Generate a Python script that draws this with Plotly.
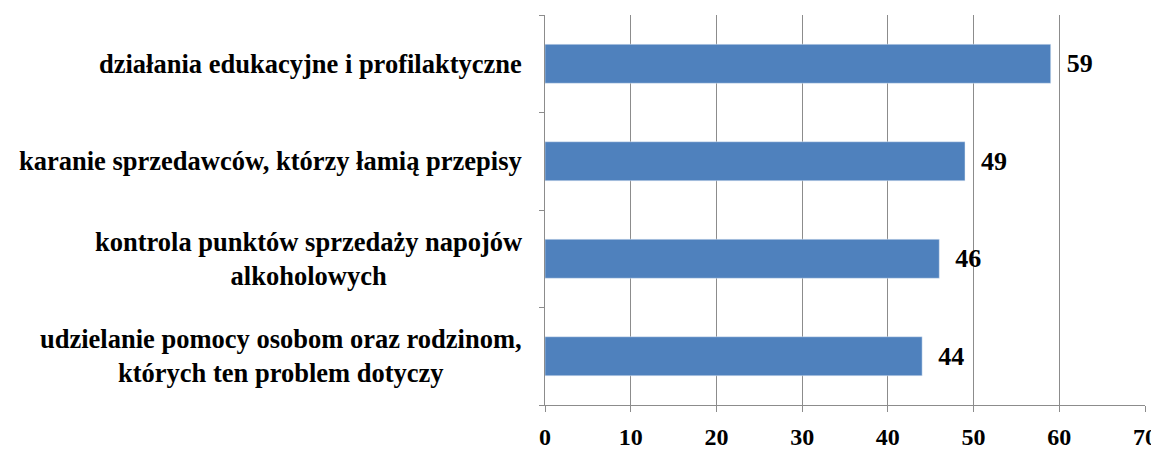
import plotly.graph_objects as go

categories = [
    "udzielanie pomocy osobom oraz rodzinom,<br>których ten problem dotyczy",
    "kontrola punktów sprzedaży napojów<br>alkoholowych",
    "karanie sprzedawców, którzy łamią przepisy",
    "działania edukacyjne i profilaktyczne",
]
values = [44, 46, 49, 59]
x_ticks = [0, 10, 20, 30, 40, 50, 60, 70]

font_family = "Liberation Serif"

fig = go.Figure(go.Bar(
    y=categories, x=values, orientation="h",
    marker=dict(color="#4F81BD"),
    text=["&nbsp;&nbsp;<b>%d</b>" % v for v in values], textposition="outside",
    textfont=dict(family=font_family, size=26, color="black"),
    cliponaxis=False, width=0.4,
))

# category labels as annotations so multi-line text is centred
for c in categories:
    fig.add_annotation(x=0, xref="paper", y=c, yref="y", text="<b>" + c + "</b>",
                       showarrow=False, xanchor="right", align="center", xshift=-21,
                       font=dict(family=font_family, size=26.5, color="black"))

fig.update_layout(
    width=1151, height=450,
    margin=dict(l=537, r=14, t=7, b=53),
    plot_bgcolor="white", paper_bgcolor="white",
    showlegend=False,
    font=dict(family=font_family, size=20, color="black"),
)
fig.update_xaxes(
    range=[0, 70], tickvals=x_ticks, ticktext=["<b>%d</b>" % t for t in x_ticks],
    showgrid=True, gridcolor="#8c8c8c", gridwidth=1,
    showline=True, linecolor="#8c8c8c", linewidth=1,
    ticks="outside", ticklen=6, tickcolor="#8c8c8c", ticklabelstandoff=4,
    tickfont=dict(family=font_family, size=24, color="black"),
    zeroline=False, automargin=False,
)
fig.update_yaxes(
    showticklabels=False, showgrid=False,
    showline=True, linecolor="#8c8c8c", linewidth=1,
    ticks="outside", ticklen=5, tickcolor="#8c8c8c", tickson="boundaries",
    range=[-0.5, 3.5], automargin=False,
)

fig.write_html("out.html")
